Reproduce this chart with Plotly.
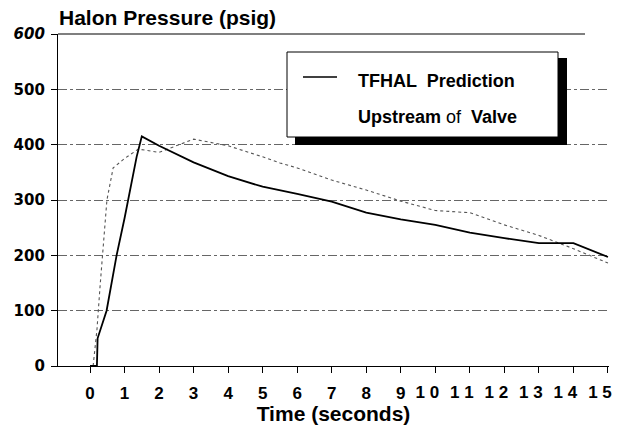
import plotly.graph_objects as go

# ---- data ----
t_pred = [0, 0.2, 0.22, 0.48, 0.77, 1.0, 1.35, 1.5, 2, 3, 4, 5, 6, 7, 8, 9, 10, 11, 12, 13, 14, 15]
p_pred = [0, 0, 50, 100, 200, 267, 378, 415, 398, 368, 343, 324, 311, 297, 277, 265, 255, 241, 231, 222, 222, 197]

t_up = [0.09, 0.2, 0.29, 0.43, 0.49, 0.67, 1.0, 1.4, 2.0, 3.0, 4, 5, 5.5, 6, 7, 8, 9, 10, 11, 12, 13, 14, 15]
p_up = [0, 65, 143, 264, 300, 358, 375, 392, 386, 410, 398, 378, 367, 358, 336, 318, 298, 281, 277, 255, 236, 212, 186]

x_tick_vals_a = [0, 1, 2, 3, 4, 5, 6, 7, 8, 9]
x_tick_text_a = ["0", "1", "2", "3", "4", "5", "6", "7", "8", "9"]
x_tick_vals_b = [10, 11, 12, 13, 14, 15]
x_tick_text_b = ["1 0", "1 1", "1 2", "1 3", "1 4", "1 5"]
y_tick_vals = [0, 100, 200, 300, 400, 500, 600]
y_tick_text = ["0", "100", "200", "300", "400", "500", "<i>600</i>"]

legend_line1 = "TFHAL  Prediction"
legend_line2 = "Upstream <span style='font-weight:normal'>of</span>  Valve"
title_text = "Halon Pressure (psig)"
x_title = "Time (seconds)"

# ---- geometry helpers (pixel -> paper) ----
W, H = 619, 429
L, R, T, B = 58, 10, 34, 63
PW, PH = W - L - R, H - T - B
def px(x):
    return (x - L) / PW
def py(y):
    return (H - B - y) / PH

XR = [-0.927, 15.03]
ARIAL = "Liberation Sans, Arial, sans-serif"
DEJA = "DejaVu Sans, sans-serif"

fig = go.Figure()
fig.add_trace(go.Scatter(x=t_up, y=p_up, mode="lines",
                         line=dict(color="#555", width=1.1, dash="dot"),
                         showlegend=False, hoverinfo="skip"))
fig.add_trace(go.Scatter(x=t_pred, y=p_pred, mode="lines",
                         line=dict(color="black", width=1.8),
                         showlegend=False, hoverinfo="skip"))
# empty trace so the overlaid second x axis (labels 10-15) is drawn
fig.add_trace(go.Scatter(x=[], y=[], xaxis="x2", yaxis="y", mode="lines",
                         showlegend=False, hoverinfo="skip"))

axis_font_x = dict(family=ARIAL, size=17, color="black", weight="bold")

fig.update_layout(
    width=W, height=H,
    margin=dict(l=L, r=R, t=T, b=B, autoexpand=False),
    paper_bgcolor="white", plot_bgcolor="white",
    showlegend=False,
    title=dict(text=title_text, x=59 / W, xanchor="left", xref="container",
               y=1 - 18 / H, yanchor="middle", yref="container",
               font=dict(family=ARIAL, size=21, color="black", weight="bold")),
    xaxis=dict(range=XR, tickmode="array", tickvals=x_tick_vals_a, ticktext=x_tick_text_a,
               showgrid=False, zeroline=False, showline=True, linecolor="black", linewidth=1.2,
               ticks="outside", ticklen=6, tickcolor="black", tickfont=axis_font_x,
               ticklabelstandoff=5,
               title=dict(text=x_title, standoff=4,
                          font=dict(family=ARIAL, size=21, color="black", weight="bold"))),
    xaxis2=dict(range=XR, overlaying="x", anchor="y", side="bottom", tickmode="array",
                tickvals=x_tick_vals_b, ticktext=x_tick_text_b, showgrid=False, zeroline=False,
                showline=False, ticks="outside", ticklen=6, tickcolor="black",
                tickfont=axis_font_x, ticklabelshift=-8, ticklabelstandoff=5),
    yaxis=dict(range=[0, 600], tickmode="array", tickvals=y_tick_vals, ticktext=y_tick_text,
               showgrid=True, gridcolor="#666", griddash="dashdot", gridwidth=1,
               zeroline=False, showline=True, linecolor="black", linewidth=1.2,
               ticks="outside", ticklen=6, tickcolor="black", ticklabelstandoff=3,
               tickfont=dict(family=DEJA, size=15, color="black", weight="bold")),
)

# top border line at 600
fig.add_shape(type="line", xref="paper", yref="paper", x0=0, x1=px(585), y0=1, y1=1,
              line=dict(color="black", width=1.2))

# legend box with heavy shadow
fig.add_shape(type="rect", xref="paper", yref="paper", x0=px(558), x1=px(567), y0=py(145), y1=py(58),
              fillcolor="black", line=dict(width=0), layer="above")
fig.add_shape(type="rect", xref="paper", yref="paper", x0=px(295), x1=px(567), y0=py(145), y1=py(137),
              fillcolor="black", line=dict(width=0), layer="above")
fig.add_shape(type="rect", xref="paper", yref="paper", x0=px(287), x1=px(558), y0=py(137), y1=py(52),
              fillcolor="white", line=dict(color="black", width=1), layer="above")
fig.add_shape(type="line", xref="paper", yref="paper", x0=px(303), x1=px(337), y0=py(77), y1=py(77),
              line=dict(color="black", width=1.5), layer="above")
fig.add_annotation(xref="paper", yref="paper", x=px(356), y=py(81), xanchor="left", yanchor="middle",
                   text=legend_line1, showarrow=False,
                   font=dict(family=ARIAL, size=18, color="black", weight="bold"))
fig.add_annotation(xref="paper", yref="paper", x=px(356), y=py(117), xanchor="left", yanchor="middle",
                   text=legend_line2, showarrow=False,
                   font=dict(family=ARIAL, size=18, color="black", weight="bold"))

fig.write_html("out.html", config={"displayModeBar": False},
               post_script="document.body.style.margin='0';")
